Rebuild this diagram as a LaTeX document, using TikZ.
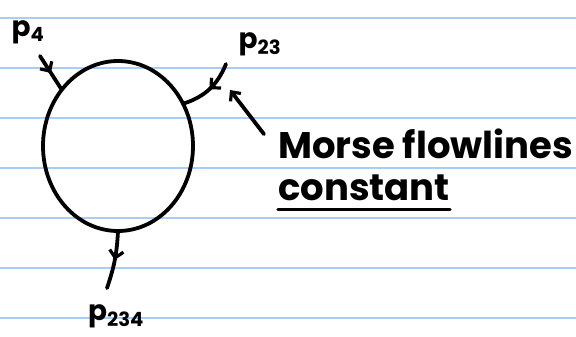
\documentclass[tikz,border=0pt]{standalone}
\usepackage{fontspec}
\setmainfont{Poppins}
\usepackage{xcolor}
\usepackage{tikz}
\usetikzlibrary{arrows.meta, positioning, shapes.geometric, decorations.markings}

\definecolor{ruleblue}{RGB}{168,206,245}

\begin{document}
\begin{tikzpicture}[
  x=1pt, y=-1pt,
  ink/.style={line width=3.8pt, line cap=round, line join=round},
  tip/.style={-{Straight Barb[length=7pt, width=13pt, line width=3.2pt]}},
  flow/.style={ink, postaction={decorate},
               decoration={markings, mark=at position 0.5 with
                 {\arrow{Straight Barb[length=7pt, width=14pt, line width=3.2pt]}}}},
  rule/.style={draw=ruleblue, line width=1.4pt},
  lbl/.style={inner sep=0pt, font=\bfseries\fontsize{28}{30}\selectfont},
  note/.style={inner sep=0pt, anchor=base west, font=\bfseries\fontsize{37}{40}\selectfont}
]
  \useasboundingbox (0,0) rectangle (576,337);
  % ruled paper
  \foreach \y in {18,68,...,318}
    \draw[rule] (0,\y) -- (576,\y);

  % the loop
  \node[ellipse, draw, ink, minimum width=150pt, minimum height=170pt,
        inner sep=0pt, outer sep=0pt] (loop) at (118,146) {};

  % labels of the ends
  \node[lbl] (p4) at (28,32) {p\textsubscript{4}};
  \node[lbl] (p23) at (260,44) {p\textsubscript{23}};
  \node[lbl] (p234) at (116,316) {p\textsubscript{234}};

  \coordinate (in4) at (40,56);
  \coordinate (in23) at (226,64);
  \coordinate (out234) at (107,288);

  \draw[flow] (in4) -- (loop.135);
  \draw[flow] (in23) to[bend left=25] (loop.33);
  \draw[flow] (loop.south) to[bend left=8] (out234);

  % the comment
  \node[note] (morse) at (278,158) {Morse flowlines};
  \node[note] (const) at (278,200) {constant};
  \draw[ink, line width=3.2pt] ([yshift=-9pt]const.south west) -- ([yshift=-9pt]const.south east);
  \coordinate (aim) at (230,90);
  \draw[ink, tip] ([xshift=-14pt, yshift=-6pt]morse.north west) -- (aim);
\end{tikzpicture}
\end{document}
